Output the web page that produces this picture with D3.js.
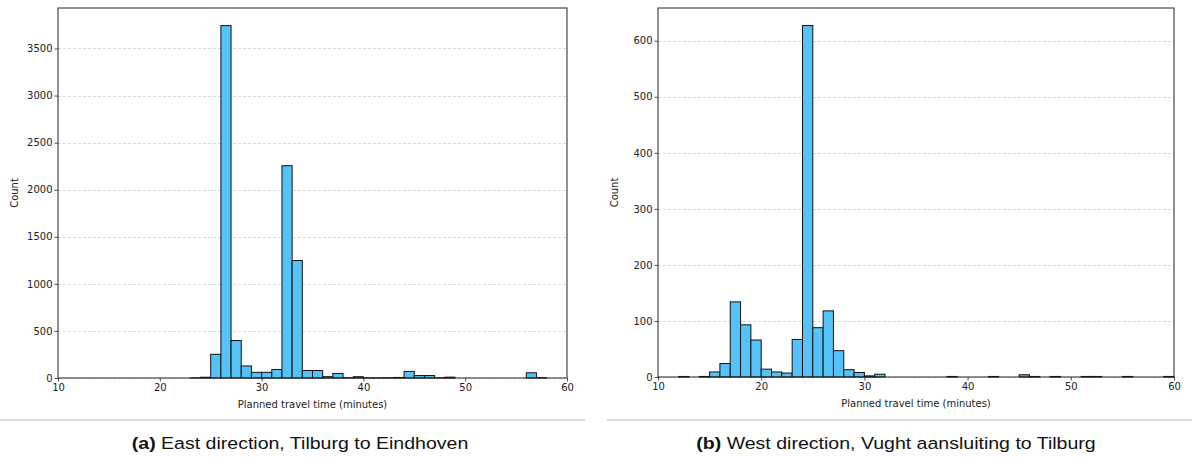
<!DOCTYPE html>
<html>
<head>
<meta charset="utf-8">
<script src="https://cdn.jsdelivr.net/npm/d3@7"></script>
<style>
  body { margin: 0; background: #fff; }
  svg text { font-family: "DejaVu Sans", sans-serif; fill: #222; }
  .caption { font-family: "Liberation Sans", Arial, sans-serif; font-size: 17px; fill: #111; }
</style>
</head>
<body>
<svg id="chart" width="1192" height="459"></svg>
<script>
// bin start (minutes), 1-minute bins from 10 to 60
const binStarts = d3.range(10, 60)

// East direction, Tilburg to Eindhoven
const eastCounts = [
  0, 0, 0, 0, 0, 0, 0, 0, 0, 0,        // 10-19
  0, 0, 0, 2, 8, 252, 3743, 398, 128, 60, // 20-29
  60, 90, 2255, 1248, 80, 80, 14, 48, 3, 14, // 30-39
  2, 2, 3, 6, 70, 26, 26, 3, 9, 0,     // 40-49
  0, 0, 0, 0, 0, 0, 55, 4, 0, 0        // 50-59
]

// West direction, Vught aansluiting to Tilburg
const westCounts = [
  0, 0, 1, 0, 1, 9, 24, 134, 93, 66,   // 10-19
  14, 9, 7, 67, 627, 88, 118, 47, 13, 8, // 20-29
  2, 5, 0, 0, 0, 0, 0, 0, 1, 0,        // 30-39
  0, 0, 1, 0, 0, 4, 1, 0, 1, 0,        // 40-49
  0, 1, 1, 0, 0, 1, 0, 0, 0, 1         // 50-59
]

const xTicks = [10, 20, 30, 40, 50, 60]
const eastYTicks = [0, 500, 1000, 1500, 2000, 2500, 3000, 3500]
const westYTicks = [0, 100, 200, 300, 400, 500, 600]

const captions = [
  {bold: "(a)", text: " East direction, Tilburg to Eindhoven"},
  {bold: "(b)", text: " West direction, Vught aansluiting to Tilburg"}
]

const svg = d3.select("#chart")

function drawPanel(opts) {
  const {left, right, top, bottom, counts, yTicks, caption, sepX0, sepX1, capX} = opts
  const w = right - left
  const h = bottom - top
  const g = svg.append("g").attr("transform", `translate(${left},${top})`)

  const xScale = d3.scaleLinear().domain([10, 60]).range([0, w])
  const yScale = d3.scaleLinear().domain([0, d3.max(counts) * 1.05]).range([h, 0])

  // grid
  g.append("g").selectAll("line")
    .data(yTicks)
    .join("line")
      .attr("x1", 0).attr("x2", w)
      .attr("y1", d => Math.round(yScale(d)) + 0.5)
      .attr("y2", d => Math.round(yScale(d)) + 0.5)
      .attr("stroke", "#cfcfcf")
      .attr("stroke-width", 0.8)
      .attr("stroke-dasharray", "3,2")

  // bars
  const bins = binStarts.map((s, i) => ({x0: s, x1: s + 1, n: counts[i]})).filter(d => d.n > 0)
  g.append("g").selectAll("rect")
    .data(bins)
    .join("rect")
      .attr("x", d => xScale(d.x0))
      .attr("width", d => xScale(d.x1) - xScale(d.x0))
      .attr("y", d => yScale(d.n))
      .attr("height", d => h - yScale(d.n))
      .attr("fill", "#55c3f8")
      .attr("stroke", "#111")
      .attr("stroke-width", 1)

  // axes
  const xAxis = g.append("g")
    .attr("transform", `translate(0,${h})`)
    .call(d3.axisBottom(xScale).tickValues(xTicks).tickSize(3.5).tickPadding(2))
  const yAxis = g.append("g")
    .call(d3.axisLeft(yScale).tickValues(yTicks).tickSize(3.5).tickPadding(2).tickFormat(d3.format("d")))
  ;[xAxis, yAxis].forEach(a => {
    a.select(".domain").remove()
    a.selectAll("line").attr("stroke", "#222").attr("stroke-width", 0.8)
    a.selectAll("text").style("font-size", "10px").attr("fill", "#222")
  })

  // frame
  g.append("rect")
    .attr("x", 0).attr("y", 0).attr("width", w).attr("height", h)
    .attr("fill", "none").attr("stroke", "#222").attr("stroke-width", 1)

  // labels
  g.append("text")
    .attr("x", w / 2).attr("y", h + 30)
    .attr("text-anchor", "middle")
    .style("font-size", "10px")
    .text("Planned travel time (minutes)")
  g.append("text")
    .attr("transform", `translate(${-40},${h / 2}) rotate(-90)`)
    .attr("text-anchor", "middle")
    .style("font-size", "10px")
    .text("Count")

  // separator + caption (caption is a bit stretched horizontally in the original)
  svg.append("line")
    .attr("x1", sepX0).attr("x2", sepX1)
    .attr("y1", 420).attr("y2", 420)
    .attr("stroke", "#bdbdbd").attr("stroke-width", 1.2)
  const cap = svg.append("text")
    .attr("class", "caption")
    .attr("transform", `translate(${capX},449) scale(1.15,1)`)
    .attr("text-anchor", "middle")
  cap.append("tspan").attr("font-weight", "bold").text(caption.bold)
  cap.append("tspan").text(caption.text)
}

drawPanel({left: 58, right: 567, top: 8, bottom: 378, counts: eastCounts, yTicks: eastYTicks,
  caption: captions[0], sepX0: 0, sepX1: 585, capX: 300})
drawPanel({left: 658, right: 1174, top: 8, bottom: 377, counts: westCounts, yTicks: westYTicks,
  caption: captions[1], sepX0: 607, sepX1: 1192, capX: 896})
</script>
</body>
</html>
